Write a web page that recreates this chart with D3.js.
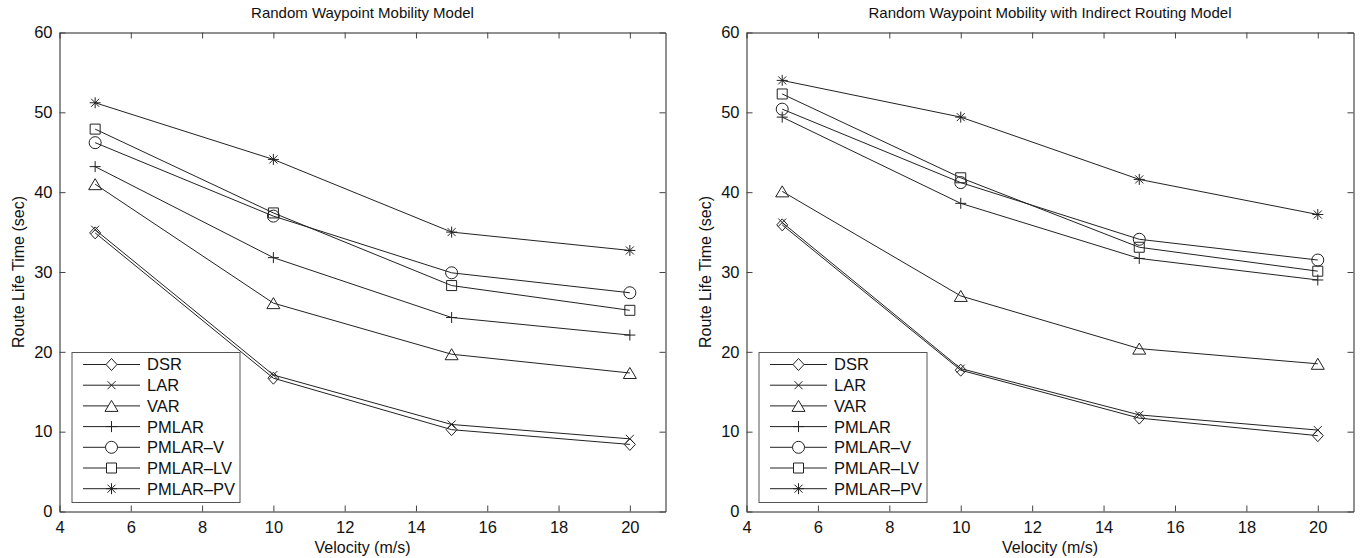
<!DOCTYPE html>
<html>
<head>
<meta charset="utf-8">
<script src="https://cdn.jsdelivr.net/npm/d3@7"></script>
<style>
  html, body { margin: 0; padding: 0; background: #fff; }
  svg { display: block; font-family: "Liberation Sans", Arial, Helvetica, sans-serif; }
</style>
</head>
<body>
<svg id="chart" width="1360" height="558"></svg>
<script>
// Velocities on the x axis
const velocity = [5, 10, 15, 20];

// Series names, in legend order
const seriesNames = ["DSR", "LAR", "VAR", "PMLAR", "PMLAR\u2013V", "PMLAR\u2013LV", "PMLAR\u2013PV"];
const markerKinds = ["diamond", "x", "triangle", "plus", "circle", "square", "asterisk"];

// Route life time (sec) — Random Waypoint Mobility Model
const dsrRWP      = [34.9, 16.7, 10.25, 8.4];
const larRWP      = [35.3, 17.1, 10.9, 9.1];
const varRWP      = [41.0, 26.1, 19.7, 17.35];
const pmlarRWP    = [43.2, 31.8, 24.3, 22.1];
const pmlarVRWP   = [46.2, 37.0, 29.9, 27.4];
const pmlarLVRWP  = [47.9, 37.4, 28.3, 25.2];
const pmlarPVRWP  = [51.2, 44.1, 35.0, 32.7];

// Route life time (sec) — Random Waypoint Mobility with Indirect Routing Model
const dsrIR      = [35.9, 17.7, 11.7, 9.5];
const larIR      = [36.2, 17.9, 12.1, 10.2];
const varIR      = [40.1, 27.0, 20.4, 18.5];
const pmlarIR    = [49.4, 38.6, 31.7, 29.0];
const pmlarVIR   = [50.4, 41.2, 34.1, 31.5];
const pmlarLVIR  = [52.3, 41.8, 33.1, 30.1];
const pmlarPVIR  = [54.0, 49.4, 41.6, 37.2];

// Axis ticks
const xTicks = [4, 6, 8, 10, 12, 14, 16, 18, 20];
const yTicks = [0, 10, 20, 30, 40, 50, 60];

const panels = [
  {
    title: "Random Waypoint Mobility Model",
    series: [dsrRWP, larRWP, varRWP, pmlarRWP, pmlarVRWP, pmlarLVRWP, pmlarPVRWP],
    left: 59.5, right: 665.5
  },
  {
    title: "Random Waypoint Mobility with Indirect Routing Model",
    series: [dsrIR, larIR, varIR, pmlarIR, pmlarVIR, pmlarLVIR, pmlarPVIR],
    left: 746.5, right: 1353.5
  }
];

const TOP = 32.5, BOTTOM = 511.5;
const INK = "#222";
const svg = d3.select("#chart");

// MATLAB-style marker outlines, centred on (0,0)
function markerPath(kind) {
  const p = d3.path();
  switch (kind) {
    case "diamond":
      p.moveTo(0, -6); p.lineTo(5.5, 0); p.lineTo(0, 6); p.lineTo(-5.5, 0); p.closePath(); break;
    case "x":
      p.moveTo(-4, -4); p.lineTo(4, 4); p.moveTo(-4, 4); p.lineTo(4, -4); break;
    case "triangle":
      p.moveTo(0, -5.5); p.lineTo(6.5, 5.5); p.lineTo(-6.5, 5.5); p.closePath(); break;
    case "plus":
      p.moveTo(-5.5, 0); p.lineTo(5.5, 0); p.moveTo(0, -5.5); p.lineTo(0, 5.5); break;
    case "circle":
      p.moveTo(6, 0); p.arc(0, 0, 6, 0, 2 * Math.PI); break;
    case "square":
      p.rect(-5, -5, 10, 10); break;
    case "asterisk":
      p.moveTo(-5.5, 0); p.lineTo(5.5, 0); p.moveTo(0, -5.5); p.lineTo(0, 5.5);
      p.moveTo(-4, -4); p.lineTo(4, 4); p.moveTo(-4, 4); p.lineTo(4, -4); break;
  }
  return p.toString();
}

panels.forEach(panel => {
  const x = d3.scaleLinear().domain([4, 21]).range([panel.left, panel.right]);
  const y = d3.scaleLinear().domain([0, 60]).range([BOTTOM, TOP]);
  const g = svg.append("g");

  // Axes with inward ticks on all four sides
  const styleAxis = sel => {
    sel.selectAll(".domain").attr("stroke", INK).attr("stroke-width", 1);
    sel.selectAll(".tick line").attr("stroke", "#444").attr("stroke-width", 1);
    sel.selectAll(".tick text").attr("fill", "#111").style("font-size", "16.5px")
      .style("font-family", "'Liberation Sans', Arial, sans-serif");
  };

  g.append("g").attr("transform", `translate(0,${BOTTOM})`)
    .call(d3.axisBottom(x).tickValues(xTicks).tickSizeInner(-6).tickSizeOuter(0).tickPadding(10))
    .call(styleAxis);
  g.append("g").attr("transform", `translate(0,${TOP})`)
    .call(d3.axisTop(x).tickValues(xTicks).tickSizeInner(-6).tickSizeOuter(0).tickFormat(""))
    .call(styleAxis);
  g.append("g").attr("transform", `translate(${panel.left},0)`)
    .call(d3.axisLeft(y).tickValues(yTicks).tickSizeInner(-6).tickSizeOuter(0).tickPadding(7))
    .call(styleAxis);
  g.append("g").attr("transform", `translate(${panel.right},0)`)
    .call(d3.axisRight(y).tickValues(yTicks).tickSizeInner(-6).tickSizeOuter(0).tickFormat(""))
    .call(styleAxis);

  // Title and axis labels
  const cx = (panel.left + panel.right) / 2;
  g.append("text").attr("x", cx).attr("y", 18).attr("text-anchor", "middle")
    .attr("fill", "#111").style("font-size", "15px").text(panel.title);
  g.append("text").attr("x", cx).attr("y", 553).attr("text-anchor", "middle")
    .attr("fill", "#111").style("font-size", "16px").text("Velocity (m/s)");
  g.append("text")
    .attr("transform", `translate(${panel.left - 36},${(TOP + BOTTOM) / 2}) rotate(-90)`)
    .attr("text-anchor", "middle").attr("fill", "#111").style("font-size", "16px")
    .text("Route Life Time (sec)");

  // Series lines and markers
  const line = d3.line().x((d, i) => x(velocity[i])).y(d => y(d));
  panel.series.forEach((vals, s) => {
    g.append("path").datum(vals).attr("d", line)
      .attr("fill", "none").attr("stroke", INK).attr("stroke-width", 1);
    g.selectAll(null).data(vals).enter().append("path")
      .attr("transform", (d, i) => `translate(${x(velocity[i])},${y(d)})`)
      .attr("d", markerPath(markerKinds[s]))
      .attr("fill", "none").attr("stroke", INK).attr("stroke-width", 1);
  });

  // Legend
  const lx = panel.left + 12.5, ly = 352.5, lw = 168, lh = 150, step = 20.7;
  const leg = g.append("g").attr("transform", `translate(${lx},${ly})`);
  leg.append("rect").attr("width", lw).attr("height", lh)
    .attr("fill", "#fff").attr("stroke", "#555").attr("stroke-width", 1);
  seriesNames.forEach((name, s) => {
    const yy = 12 + s * step;
    leg.append("line").attr("x1", 11).attr("x2", 68).attr("y1", yy).attr("y2", yy)
      .attr("stroke", INK).attr("stroke-width", 1);
    leg.append("path").attr("transform", `translate(39.5,${yy})`)
      .attr("d", markerPath(markerKinds[s]))
      .attr("fill", "#fff").attr("stroke", INK).attr("stroke-width", 1);
    leg.append("text").attr("x", 75).attr("y", yy).attr("dy", "0.36em")
      .attr("fill", "#111").style("font-size", "16.5px").text(name);
  });
});
</script>
</body>
</html>
